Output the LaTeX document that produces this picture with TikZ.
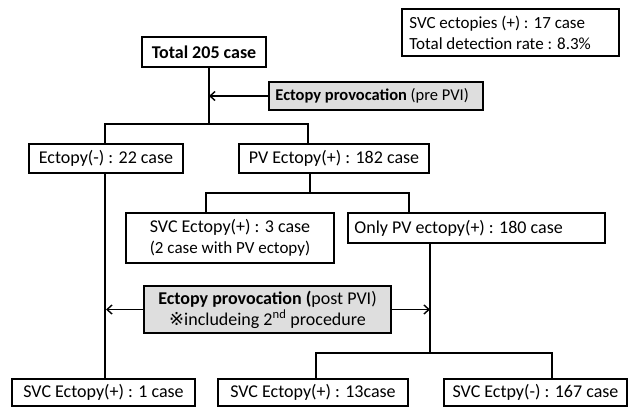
\documentclass[tikz,border=0pt]{standalone}
\usepackage{fontspec}
\setmainfont{Carlito}
\newfontfamily\symfont{DejaVu Sans}
\usetikzlibrary{arrows.meta}
\begin{document}
\begin{tikzpicture}[x=1pt,y=-1pt,
  box/.style={draw=black,line width=1.6pt,fill=white,inner sep=0pt,minimum height=#1,font=\fontsize{18}{21}\selectfont},
  gbox/.style={box=#1,fill=black!13},
  txt/.style={inner sep=0pt,anchor=west,align=left,font=\fontsize{17}{21}\selectfont},
  ln/.style={line width=1.6pt},
  arr/.style={line width=1.6pt,-{Straight Barb[length=5pt,width=9pt,line width=1.4pt]}}]
\useasboundingbox (0,0) rectangle (633,410);
% nodes
\node[box=30pt,minimum width=124pt,font=\fontsize{18}{21}\selectfont\bfseries] (total) at (204,52) {Total 205 case};
\node[box=47pt,minimum width=217pt] (sum) at (510.5,32.5) {};
\node[txt] (sumT) at ([xshift=8pt]sum.west) {SVC ectopies (+) : 17 case\\Total detection rate : 8.3\%};
\node[gbox=28pt,minimum width=214pt] (pre) at (376,96) {};
\node[txt,font=\fontsize{16.5}{20}\selectfont] (preT) at ([xshift=7pt]pre.west) {\textbf{Ectopy provocation} (pre PVI)};
\node[box=29pt,minimum width=154pt] (neg) at (106,158.5) {Ectopy(-) : 22 case};
\node[box=29pt,minimum width=190pt] (pv) at (334,158.5) {PV Ectopy(+) : 182 case};
\node[box=50pt,minimum width=208pt,align=center] (svc3) at (230,238) {SVC Ectopy(+) : 3 case\\{\fontsize{17}{21}\selectfont(2 case with PV ectopy)}};
\node[box=30pt,minimum width=257pt] (only) at (476.5,228) {};
\node[txt,font=\fontsize{18}{21}\selectfont] (onlyT) at ([xshift=7pt]only.west) {Only PV ectopy(+) : 180 case};
\node[gbox=47pt,minimum width=247pt,align=center] (post) at (267.5,309.5) {\textbf{Ectopy provocation (}post PVI)\\{\symfont\fontsize{18}{21}\selectfont ※}includeing 2\textsuperscript{nd} procedure};
\node[box=27pt,minimum width=183pt] (s1) at (103.5,392.5) {SVC Ectopy(+) : 1 case};
\node[box=27pt,minimum width=190pt] (s13) at (313,392.5) {SVC Ectopy(+) : 13case};
\node[box=27pt,minimum width=183pt] (sneg) at (535.5,392.5) {SVC Ectpy(-) : 167 case};
% junctions
\coordinate (j1) at (209,124);
\coordinate (a1) at (209,96);
\coordinate (j2) at (310,193);
\coordinate (j3) at (430,353);
\coordinate (aL) at (106,309.5);
\coordinate (aR) at (430,309.5);
% connectors
\draw[ln] (total.south -| j1) -- (j1);
\draw[arr] (pre.west) -- (a1);
\draw[ln] (neg.north -| 105,0) -- (105,124) -- (308,124) -- (pv.north -| 308,0);
\draw[ln] (pv.south -| j2) -- (j2);
\draw[ln] (svc3.north -| 206,0) -- (206,193) -- (409,193) -- (only.north -| 409,0);
\draw[ln] (neg.south -| 105,0) -- (s1.north -| 105,0);
\draw[ln] (only.south -| j3) -- (j3);
\draw[ln] (s13.north -| 316,0) -- (316,353) -- (552,353) -- (sneg.north -| 552,0);
\draw[arr] (post.west) -- (aL);
\draw[arr] (post.east) -- (aR);
\end{tikzpicture}
\end{document}
